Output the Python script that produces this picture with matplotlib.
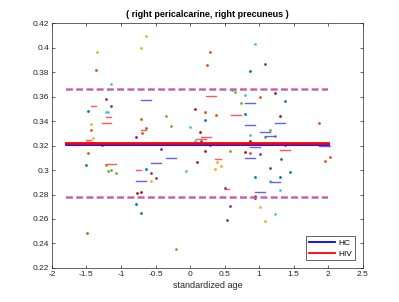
"""Standardized age vs. connectivity: HC / HIV group lines with subject points."""
import matplotlib.pyplot as plt
import numpy as np

plt.rcParams["font.family"] = ["Liberation Sans", "DejaVu Sans"]

MATLAB_COLORS = {
    "blue": "#0072BD",
    "orange": "#D95319",
    "yellow": "#EDB120",
    "purple": "#7E2F8E",
    "green": "#77AC30",
    "lightblue": "#4DBEEE",
    "crimson": "#A2142F",
}

# group fit (mean line and +/- band)
x_range = [-1.8, 2.0]
hc_mean, hc_band = 0.3214, 0.0443
hiv_mean, hiv_band = 0.3222, 0.0442

# subject points, grouped by colour
points = {
    "yellow": [(-1.35, 0.3966), (-0.636, 0.409), (-0.71, 0.400), (-1.43, 0.3376),
               (-1.41, 0.3265), (-0.563, 0.2913), (0.387, 0.3063), (0.44, 0.3035),
               (0.36, 0.3008), (1.013, 0.2695), (1.086, 0.2581)],
    "orange": [(-1.355, 0.382), (0.295, 0.396), (0.24, 0.386), (-0.71, 0.342),
               (-0.636, 0.334), (-0.69, 0.330), (0.22, 0.347), (0.37, 0.345),
               (1.013, 0.3596), (1.87, 0.3384), (-1.43, 0.333), (-1.48, 0.3142),
               (-1.495, 0.2488), (0.87, 0.3136), (2.017, 0.3109), (1.945, 0.3073),
               (0.94, 0.2788)],
    "lightblue": [(-1.14, 0.370), (-1.21, 0.347), (-1.19, 0.347), (0.004, 0.335),
                  (0.94, 0.403), (0.795, 0.3615), (0.87, 0.3283), (-0.064, 0.2988),
                  (0.077, 0.3237), (1.16, 0.2913), (1.30, 0.2837), (1.23, 0.2638)],
    "purple": [(-1.214, 0.358), (-1.146, 0.352), (1.086, 0.3868), (-1.28, 0.3207),
               (-0.563, 0.2973), (-0.49, 0.2937), (-0.42, 0.3174), (0.51, 0.2853),
               (0.58, 0.2704), (0.53, 0.2592), (1.013, 0.3128), (1.16, 0.3014)],
    "blue": [(-1.48, 0.348), (0.21, 0.3406), (0.87, 0.381), (1.37, 0.3566),
             (0.795, 0.346), (-1.50, 0.304), (-0.636, 0.3008), (-0.78, 0.2722),
             (-0.71, 0.2651), (0.16, 0.3237), (0.295, 0.3207), (1.32, 0.3087),
             (1.445, 0.2986), (0.94, 0.2943), (1.30, 0.2943)],
    "crimson": [(-0.78, 0.327), (0.077, 0.350), (0.15, 0.331), (1.23, 0.363),
                (1.30, 0.3438), (-0.767, 0.2812), (-0.71, 0.282), (0.217, 0.3152),
                (0.096, 0.3065), (0.87, 0.3237), (1.37, 0.3204), (0.795, 0.3144),
                (0.94, 0.2769)],
    "green": [(-0.35, 0.344), (-0.28, 0.3357), (0.605, 0.3656), (0.654, 0.3634),
              (0.73, 0.355), (1.16, 0.3327), (1.08, 0.327), (1.23, 0.3278),
              (-1.21, 0.304), (-1.19, 0.2995), (-1.14, 0.3003), (-1.07, 0.2978),
              (-0.21, 0.2353), (0.58, 0.3158)],
}

# per-subject segments (x start, x end, y)
hc_segments = [(-0.71, -0.565, 0.357), (0.80, 0.945, 0.355), (0.80, 0.945, 0.3367),
               (1.23, 1.37, 0.338), (1.017, 1.16, 0.3313), (1.09, 1.23, 0.3278),
               (-0.064, 0.08, 0.3212), (-0.78, -0.636, 0.2913), (-0.563, -0.42, 0.306),
               (-0.35, -0.21, 0.3098), (0.87, 1.013, 0.3188), (1.87, 2.02, 0.3196),
               (0.80, 0.945, 0.3096), (1.16, 1.30, 0.2902), (0.945, 1.09, 0.282)]
hiv_segments = [(-1.43, -1.355, 0.352), (-1.21, -1.14, 0.343), (-1.28, -1.14, 0.338),
                (-1.50, -1.43, 0.3245), (-1.50, -1.41, 0.3228), (-0.71, -0.636, 0.3327),
                (0.227, 0.37, 0.3604), (0.16, 0.30, 0.327), (0.086, 0.227, 0.325),
                (0.587, 0.73, 0.345), (-1.214, -1.07, 0.305), (-0.78, -0.71, 0.300),
                (0.36, 0.44, 0.3087), (0.51, 0.56, 0.2842), (1.30, 1.445, 0.3163)]

x_ticks = np.arange(-2, 2.51, 0.5)
y_ticks = np.arange(0.22, 0.4201, 0.02)


def fmt(v):
    return f"{v:.2f}".rstrip("0").rstrip(".")


def main() -> None:
    fig = plt.figure(figsize=(3.99, 3.02), dpi=100)
    ax = fig.add_axes([0.13, 0.1126, 0.7795, 0.8112])

    for name, pts in points.items():
        arr = np.array(pts)
        ax.plot(arr[:, 0], arr[:, 1], "o", ms=2.0, mew=0, color=MATLAB_COLORS[name])

    for x0, x1, y in hc_segments:
        ax.plot([x0, x1], [y, y], color="#3a3aff", lw=1.0, alpha=0.8)
    for x0, x1, y in hiv_segments:
        ax.plot([x0, x1], [y, y], color="#ff3030", lw=1.0, alpha=0.8)

    dash = (4.5, 2.2)
    for m, b, c, a in [(hc_mean, hc_band, "#8080ff", 1.0),
                       (hiv_mean, hiv_band, "#ee3060", 0.75)]:
        ax.plot(x_range, [m + b, m + b], color=c, lw=1.1, dashes=dash, alpha=a)
        ax.plot(x_range, [m - b, m - b], color=c, lw=1.1, dashes=dash, alpha=a)
    hc_line, = ax.plot(x_range, [hc_mean, hc_mean], color="#0000ff", lw=2.0)
    hiv_line, = ax.plot(x_range, [hiv_mean, hiv_mean], color="#ff0000", lw=2.0)

    ax.set_xlim(-2, 2.5)
    ax.set_ylim(0.22, 0.42)
    ax.set_xticks(x_ticks, [fmt(v) for v in x_ticks])
    ax.set_yticks(y_ticks, [fmt(v) for v in y_ticks])
    ax.tick_params(direction="in", top=True, right=True, length=2.5, width=0.5,
                   labelsize=6, colors="#262626", pad=2)
    for s in ax.spines.values():
        s.set_color("#262626")
        s.set_linewidth(0.5)

    ax.set_xlabel("standardized age", fontsize=6.5, color="#262626", labelpad=2)
    ax.set_title("( right pericalcarine, right precuneus )", fontsize=6.5,
                 fontweight="bold", pad=4)

    leg = ax.legend([hc_line, hiv_line], ["HC", "HIV"], loc="lower right",
                    fontsize=6, handlelength=3.2, fancybox=False, framealpha=1,
                    borderpad=0.35, labelspacing=0.3, handletextpad=0.4,
                    borderaxespad=0.9)
    leg.get_frame().set_edgecolor("#262626")
    leg.get_frame().set_linewidth(0.5)
    for line in leg.get_lines():
        line.set_linewidth(1.3)

    fig.savefig("out.png", dpi=100)
    plt.close(fig)


if __name__ == "__main__":
    main()
